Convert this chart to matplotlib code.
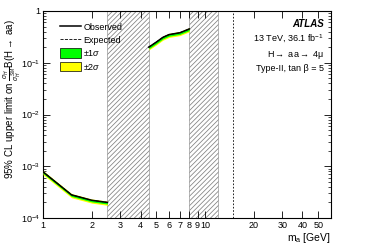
import matplotlib
matplotlib.use("Agg")
import matplotlib.pyplot as plt
from matplotlib.ticker import FixedLocator, NullFormatter, LogLocator
from matplotlib.lines import Line2D
from matplotlib.patches import Patch
import numpy as np

plt.rcParams['font.family'] = ['Liberation Sans', 'DejaVu Sans']
plt.rcParams['mathtext.fontset'] = 'custom'
plt.rcParams['mathtext.rm'] = 'Liberation Sans'
plt.rcParams['mathtext.it'] = 'Liberation Sans:italic'
plt.rcParams['hatch.color'] = '#808080'
plt.rcParams['hatch.linewidth'] = 0.55

# low-mass segment
ma_low = [1.0, 1.5, 2.0, 2.5]
obs_low = [7.8e-4, 2.8e-4, 2.2e-4, 2.0e-4]
# mid-mass segment
ma_mid = [4.5, 5.0, 5.5, 6.0, 7.0, 8.0]
obs_mid = [0.20, 0.25, 0.31, 0.35, 0.38, 0.45]
# excluded (hatched) windows and boundary
vetoed = [(2.5, 4.5), (8.0, 12.0)]
boundary = 15.0

xticks = [1, 2, 3, 4, 5, 6, 7, 8, 9, 10, 20, 30, 40, 50]
xlabels = ['1', '2', '3', '4', '5', '6', '7', '8', '9', '10', '20', '30', '40', '50']

fig = plt.figure(figsize=(3.74, 2.5), dpi=100)
ax = fig.add_axes([0.115, 0.128, 0.77, 0.828])
ax.set_xscale('log')
ax.set_yscale('log')
ax.set_xlim(1, 60)
ax.set_ylim(1e-4, 1)

for lo, hi in vetoed:
    ax.axvspan(lo, hi, facecolor='white', edgecolor='#808080', hatch='///////', lw=0.4, zorder=1)
ax.axvline(boundary, color='black', ls='--', lw=0.6, dashes=(2, 2), zorder=2)

for xs, ys in [(ma_low, obs_low), (ma_mid, obs_mid)]:
    xs = np.array(xs); ys = np.array(ys)
    ax.fill_between(xs, ys * 0.88, ys * 1.06, color='#ffff00', lw=0, zorder=3)
    ax.fill_between(xs, ys * 0.93, ys * 1.03, color='#00ff00', lw=0, zorder=4)
    ax.plot(xs, ys, color='black', ls='--', lw=0.6, zorder=5)
    ax.plot(xs, ys, color='black', lw=1.1, zorder=6)

ax.xaxis.set_major_locator(FixedLocator(xticks))
ax.set_xticklabels(xlabels)
ax.xaxis.set_minor_formatter(NullFormatter())
ax.yaxis.set_minor_locator(LogLocator(base=10, subs=np.arange(2, 10), numticks=10))
ax.set_yticks([1e-4, 1e-3, 1e-2, 1e-1, 1])
ax.set_yticklabels(['$10^{-4}$', '$10^{-3}$', '$10^{-2}$', '$10^{-1}$', '1'])
ax.yaxis.set_minor_formatter(NullFormatter())
ax.tick_params(which='both', direction='in', top=True, right=True, labelsize=6.5, pad=2)
ax.tick_params(which='major', length=5, width=0.6)
ax.tick_params(which='minor', length=2.5, width=0.5)
for s in ax.spines.values():
    s.set_linewidth(0.8)

ax.set_xlabel('m$_\\mathrm{a}$ [GeV]', fontsize=7.5, loc='right', labelpad=1)
ax.set_ylabel('95% CL upper limit on $\\frac{\\sigma_H}{\\sigma_H^{SM}}$B(H$\\rightarrow$ aa)',
              fontsize=7, labelpad=1)
ax.yaxis.set_label_coords(-0.108, 0.96)
ax.yaxis.label.set_horizontalalignment('right')
ax.yaxis.label.set_verticalalignment('center')

handles = [Line2D([], [], color='black', lw=1.1),
           Line2D([], [], color='black', lw=0.6, ls='--'),
           Patch(facecolor='#00ff00', edgecolor='black', lw=0.5),
           Patch(facecolor='#ffff00', edgecolor='black', lw=0.5)]
ax.legend(handles, ['Observed', 'Expected', '$\\pm$1$\\sigma$', '$\\pm$2$\\sigma$'],
          loc='upper left', bbox_to_anchor=(0.03, 0.985), frameon=False, fontsize=6.5,
          handlelength=2.3, handleheight=1.3, handletextpad=0.3, labelspacing=0.35)

ax.text(0.975, 0.96, 'ATLAS', transform=ax.transAxes, ha='right', va='top',
        fontsize=7, fontweight='bold', fontstyle='italic')
ax.text(0.975, 0.895, '13 TeV, 36.1 fb$^{-1}$', transform=ax.transAxes, ha='right', va='top', fontsize=6.5)
ax.text(0.975, 0.815, 'H$\\rightarrow$ aa$\\rightarrow$ 4μ', transform=ax.transAxes, ha='right', va='top', fontsize=6.5)
ax.text(0.975, 0.745, 'Type-II, tan β = 5', transform=ax.transAxes, ha='right', va='top', fontsize=6.5)

fig.savefig('out.png', dpi=100)
